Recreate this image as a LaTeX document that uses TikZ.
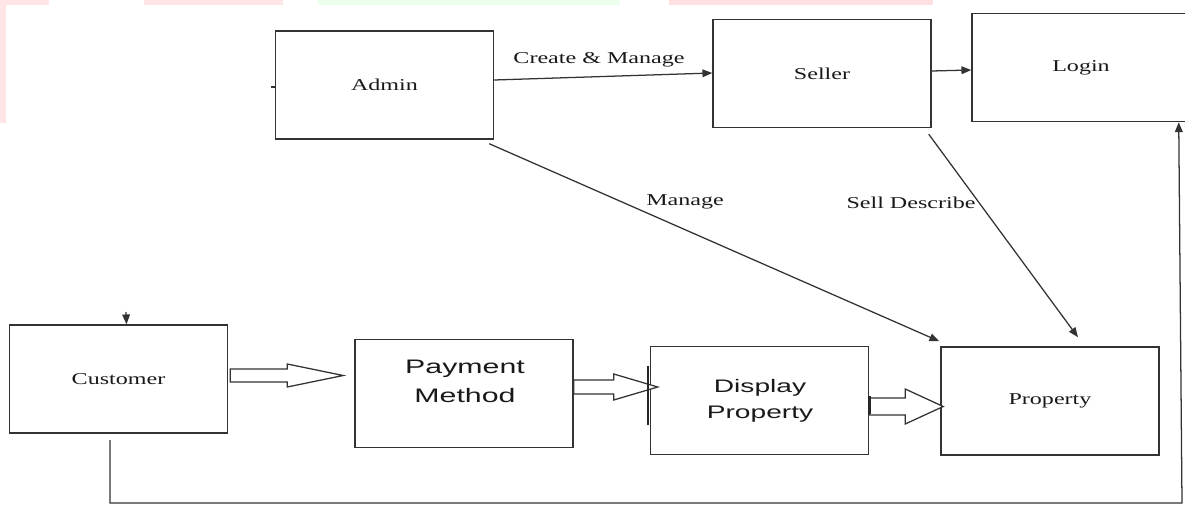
\documentclass[tikz,border=0pt]{standalone}
\usepackage{fontspec}
\setmainfont{Liberation Serif}[FakeStretch=1.45]
\newfontfamily\boxsans{Liberation Sans}[FakeStretch=1.55]
\usetikzlibrary{arrows.meta,calc}

\tikzset{
  box/.style={draw=black!80, line width=1pt, minimum width=5.45cm, minimum height=2.7cm,
    inner sep=0pt, font=\fontsize{11.8}{14}\selectfont, text=black!90},
  sanstext/.style={font=\boxsans\fontsize{13.9}{20.5}\selectfont, align=center, text=black!90, inner sep=0pt},
  lbl/.style={font=\fontsize{11.8}{14}\selectfont, text=black!90, inner sep=0pt},
  link/.style={draw=black!80, line width=0.9pt, -{Triangle[length=7pt,width=5.5pt]}},
  plain/.style={draw=black!80, line width=0.9pt},
  hollow/.style={draw=black!80, line width=0.9pt, fill=white, line join=miter},
}
% start, length, half shaft, half head, head length
\newcommand{\hollowarrow}[5]{%
  \draw[hollow] (#1) ++(0,-#3) -- ++(#2-#5,0) -- ++(0,#3-#4) -- ++(#5,#4)
    -- ++(-#5,#4) -- ++(0,#3-#4) -- ++(#5-#2,0) -- cycle;}

\begin{document}
\begin{tikzpicture}[x=0.025cm, y=-0.025cm]
  \useasboundingbox (0,0) rectangle (1185,506);

  % faint bands along the top
  \fill[red!10]   (0,0)   rectangle (49,5);
  \fill[red!10]   (144,0) rectangle (283,5);
  \fill[green!7]  (318,0) rectangle (620,5);
  \fill[red!12]   (669,0) rectangle (933,5);
  \fill[red!10]   (0,0)   rectangle (6,123);

  \node[box] (admin)    at ( 384.5,  85.0) {Admin};
  \node[box] (seller)   at ( 822.0,  73.5) {Seller};
  \node[box] (login)    at (1081.0,  67.5) {Login};
  \node[box] (customer) at ( 118.5, 379.0) {Customer};
  \node[box] (payment)  at ( 464.0, 393.5) {};
  \node[box] (display)  at ( 759.5, 400.5) {};
  \node[box] (property) at (1050.0, 401.0) {Property};

  \node[sanstext] (paytext)  at (465, 381.5) {Payment\\Method};
  \node[sanstext, font=\boxsans\fontsize{12.9}{18.4}\selectfont] (disptext) at (760, 401) {Display\\Property};

  \node[lbl] (lblcreate) at (599,  60) {Create \& Manage};
  \node[lbl] (lblmanage) at (685, 202) {Manage};
  \node[lbl] (lblsell)   at (911, 203) {Sell Describe};

  \draw[link] ($(admin.east)+(0,-5)$) -- ($(seller.west)+(0,-0.5)$);
  \draw[link] ($(seller.east)+(0,-2.5)$) -- ($(login.west)+(0,2.5)$);
  \draw[link] ($(admin.south east)+(-5,4)$) -- ($(property.north west)+(-1,-5)$);
  \draw[link] ($(seller.south east)+(-3,6)$) -- ($(property.north)+(28,-9)$);

  % customer back to login along the bottom
  \coordinate (cbot)    at (110, 440);
  \coordinate (cturn)   at (110, 503);
  \coordinate (rturn)   at (1182, 503);
  \draw[link] (cbot) -- (cturn) -- (rturn) -- ($(login.south east)+(-12,0)$);

  \coordinate (ctick) at (126, 312);
  \draw[link] (ctick) -- ($(customer.north)+(8,0)$);
  \coordinate (astub) at (271, 87);
  \draw[plain] (astub) -- ($(admin.west)+(0,2)$);

  \hollowarrow{$(customer.east)+(2,-3.5)$}{113}{6.5}{11.5}{56}
  \hollowarrow{$(payment.east)+(0,-6.5)$}{84}{7}{13}{44}
  \hollowarrow{$(display.east)+(0,6)$}{74}{8.5}{17.5}{38}

  \draw[black!85, line width=1.8pt] ($(display.north west)+(-2,20)$) -- ++(0,59);
  \draw[black!85, line width=1.8pt] ($(display.north east)+(0,50)$) -- ++(0,18);
\end{tikzpicture}
\end{document}
